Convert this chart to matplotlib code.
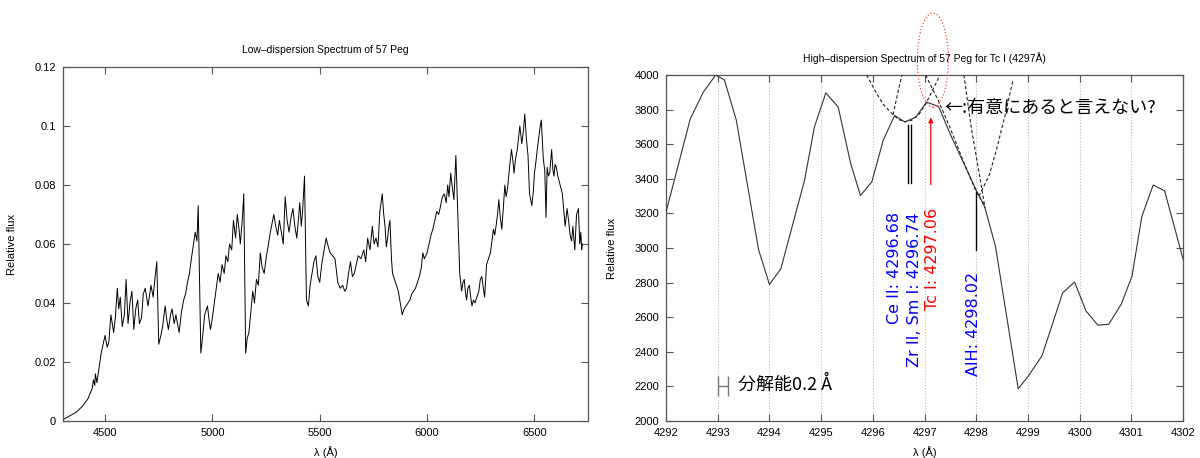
import matplotlib.pyplot as plt
from matplotlib.patches import Ellipse

# ---- Low-dispersion spectrum (left), rows of 10 values
low_wave = [4304, 4330, 4366, 4395, 4420, 4440, 4446, 4452, 4455, 4462,
            4482, 4500, 4510, 4518, 4527, 4540, 4548, 4557, 4564, 4571,
            4580, 4590, 4598, 4607, 4616, 4625, 4634, 4643, 4652, 4660,
            4670, 4678, 4687, 4700, 4714, 4724, 4732, 4741, 4750, 4760,
            4768, 4780, 4788, 4795, 4805, 4812, 4822, 4830, 4845, 4856,
            4866, 4875, 4884, 4893, 4902, 4912, 4920, 4928, 4934, 4946,
            4955, 4964, 4977, 4985, 4991, 5000, 5009, 5018, 5027, 5036,
            5045, 5055, 5063, 5072, 5080, 5090, 5098, 5108, 5116, 5124,
            5130, 5140, 5146, 5155, 5162, 5170, 5180, 5188, 5196, 5205,
            5214, 5223, 5232, 5241, 5250, 5259, 5270, 5286, 5295, 5304,
            5312, 5321, 5330, 5339, 5348, 5357, 5366, 5375, 5384, 5393,
            5400, 5407, 5414, 5420, 5429, 5438, 5447, 5455, 5464, 5473,
            5482, 5491, 5500, 5509, 5518, 5530, 5540, 5548, 5560, 5571,
            5584, 5595, 5607, 5616, 5625, 5634, 5643, 5652, 5661, 5670,
            5679, 5692, 5705, 5714, 5723, 5734, 5745, 5753, 5762, 5771,
            5780, 5791, 5798, 5804, 5810, 5816, 5822, 5827, 5834, 5839,
            5848, 5857, 5866, 5875, 5884, 5893, 5902, 5911, 5920, 5928,
            5937, 5946, 5955, 5964, 5973, 5980, 5987, 6000, 6009, 6018,
            6027, 6036, 6045, 6054, 6063, 6071, 6080, 6089, 6096, 6102,
            6110, 6116, 6125, 6134, 6145, 6152, 6161, 6167, 6173, 6178,
            6184, 6190, 6197, 6203, 6209, 6216, 6223, 6232, 6241, 6248,
            6255, 6262, 6268, 6277, 6286, 6295, 6302, 6309, 6315, 6321,
            6328, 6334, 6341, 6348, 6355, 6362, 6368, 6375, 6384, 6393,
            6400, 6405, 6412, 6420, 6426, 6432, 6441, 6448, 6455, 6462,
            6470, 6477, 6488, 6495, 6500, 6507, 6513, 6520, 6527, 6532,
            6541, 6548, 6554, 6559, 6565, 6571, 6580, 6586, 6591, 6596,
            6602, 6609, 6616, 6623, 6630, 6637, 6643, 6652, 6659, 6666,
            6673, 6679, 6688, 6696, 6705, 6711, 6716, 6720, 6723]
low_flux = [0.0005, 0.0015, 0.003, 0.005, 0.0075, 0.011, 0.014, 0.012, 0.016, 0.013,
            0.023, 0.029, 0.025, 0.027, 0.036, 0.030, 0.035, 0.045, 0.038, 0.042,
            0.032, 0.036, 0.048, 0.033, 0.040, 0.044, 0.031, 0.038, 0.041, 0.033,
            0.035, 0.043, 0.045, 0.039, 0.046, 0.042, 0.048, 0.054, 0.026, 0.029,
            0.032, 0.039, 0.034, 0.031, 0.036, 0.038, 0.033, 0.036, 0.030, 0.037,
            0.041, 0.043, 0.047, 0.050, 0.055, 0.060, 0.064, 0.061, 0.073, 0.023,
            0.029, 0.036, 0.039, 0.034, 0.031, 0.035, 0.040, 0.045, 0.050, 0.047,
            0.053, 0.050, 0.056, 0.054, 0.060, 0.058, 0.068, 0.062, 0.070, 0.065,
            0.060, 0.069, 0.077, 0.023, 0.028, 0.030, 0.038, 0.044, 0.040, 0.048,
            0.046, 0.057, 0.052, 0.050, 0.055, 0.059, 0.064, 0.070, 0.066, 0.063,
            0.068, 0.064, 0.060, 0.076, 0.068, 0.064, 0.069, 0.072, 0.066, 0.062,
            0.068, 0.074, 0.066, 0.071, 0.083, 0.041, 0.039, 0.046, 0.050, 0.054,
            0.056, 0.049, 0.047, 0.053, 0.057, 0.062, 0.059, 0.057, 0.056, 0.055,
            0.047, 0.045, 0.046, 0.044, 0.045, 0.050, 0.054, 0.049, 0.050, 0.053,
            0.056, 0.055, 0.058, 0.054, 0.062, 0.058, 0.066, 0.060, 0.062, 0.059,
            0.071, 0.077, 0.070, 0.066, 0.059, 0.062, 0.066, 0.068, 0.055, 0.050,
            0.048, 0.046, 0.044, 0.040, 0.036, 0.038, 0.039, 0.040, 0.041, 0.043,
            0.044, 0.045, 0.047, 0.049, 0.052, 0.057, 0.055, 0.057, 0.060, 0.063,
            0.065, 0.068, 0.071, 0.070, 0.073, 0.076, 0.077, 0.074, 0.080, 0.076,
            0.084, 0.080, 0.075, 0.090, 0.066, 0.050, 0.044, 0.047, 0.048, 0.044,
            0.041, 0.045, 0.046, 0.042, 0.039, 0.041, 0.040, 0.042, 0.044, 0.048,
            0.049, 0.045, 0.042, 0.053, 0.055, 0.057, 0.061, 0.065, 0.063, 0.066,
            0.070, 0.075, 0.069, 0.065, 0.072, 0.080, 0.076, 0.079, 0.086, 0.092,
            0.088, 0.084, 0.089, 0.092, 0.096, 0.100, 0.094, 0.098, 0.104, 0.096,
            0.090, 0.077, 0.073, 0.078, 0.084, 0.088, 0.092, 0.096, 0.100, 0.102,
            0.089, 0.085, 0.069, 0.086, 0.083, 0.084, 0.092, 0.085, 0.083, 0.087,
            0.086, 0.083, 0.081, 0.079, 0.077, 0.071, 0.066, 0.072, 0.068, 0.063,
            0.061, 0.066, 0.058, 0.070, 0.072, 0.060, 0.064, 0.058, 0.060]

# ---- High-dispersion spectrum (right)
high_wave = [4292.00, 4292.47, 4292.72, 4292.96, 4293.13, 4293.36, 4293.79, 4294.00, 4294.22,
             4294.68, 4294.87, 4295.09, 4295.33, 4295.57, 4295.76, 4295.98, 4296.20, 4296.42,
             4296.62, 4296.83, 4297.04, 4297.27, 4297.52, 4297.79, 4298.01, 4298.16, 4298.37,
             4298.81, 4299.01, 4299.27, 4299.67, 4299.90, 4300.12, 4300.35, 4300.56, 4300.80,
             4301.01, 4301.20, 4301.42, 4301.64, 4302.00]
high_flux = [3207, 3747, 3900, 4000, 3971, 3738, 2990, 2789, 2879, 3393, 3700, 3897, 3814, 3489,
             3303, 3383, 3623, 3766, 3728, 3757, 3843, 3818, 3642, 3469, 3326, 3240, 3010, 2186,
             2262, 2377, 2741, 2803, 2636, 2554, 2559, 2674, 2837, 3182, 3364, 3331, 2933]

# dashed fit curves (only the parts inside the frame)
fit_curves = [
    ([4295.88, 4296.05, 4296.20, 4296.39, 4296.50, 4296.62, 4296.75, 4296.90, 4297.05, 4297.30],
     [4000, 3905, 3830, 3770, 3742, 3730, 3738, 3775, 3850, 4000]),
    ([4296.39, 4296.47, 4296.56], [3770, 3880, 4000]),
    ([4297.02, 4297.15, 4297.26, 4297.50, 4297.75, 4297.98, 4298.15],
     [4000, 3920, 3856, 3690, 3500, 3337, 3250]),
    ([4297.76, 4297.90, 4298.05, 4298.17], [4000, 3700, 3440, 3230]),
    ([4298.05, 4298.25, 4298.40, 4298.55, 4298.71], [3300, 3420, 3580, 3760, 3971]),
]

# line identifications
id_black_lines = [4296.68, 4296.74]
id_black_range = (3378, 3712)
tc_wave = 4297.12
tc_range = (3350, 3770)
alh_wave = 4298.0
alh_range = (2990, 3326)

labels = ['Ce II: 4296.68', 'Zr II, Sm I: 4296.74', 'Tc I: 4297.06', 'AlH: 4298.02']
label_x = [4296.41, 4296.80, 4297.15, 4297.94]
label_top = [3210, 3205, 3233, 2860]
label_colors = ['#0000ff', '#0000ff', '#ff0000', '#0000ff']

resolution = 0.2
res_center = (4293.1, 2200)

jp = ['Noto Sans CJK JP', 'DejaVu Sans']
plt.rcParams['font.family'] = ['Liberation Sans', 'DejaVu Sans']
spine_col = '#555555'

fig = plt.figure(figsize=(12, 4.58), dpi=100)


def style(ax):
    for s in ax.spines.values():
        s.set_color(spine_col)
        s.set_linewidth(0.9)
    ax.tick_params(direction='in', top=True, right=True, length=5, width=0.8,
                   color=spine_col, labelsize=8, pad=5)


# left panel
ax1 = fig.add_axes([0.0523, 0.0808, 0.4378, 0.773])
ax1.plot(low_wave, low_flux, color='black', lw=0.7)
ax1.set_xlim(4303, 6750)
ax1.set_ylim(0, 0.12)
ax1.set_xticks([4500, 5000, 5500, 6000, 6500])
ax1.set_yticks([0, 0.02, 0.04, 0.06, 0.08, 0.1, 0.12])
ax1.set_yticklabels(['0', '0.02', '0.04', '0.06', '0.08', '0.1', '0.12'])
style(ax1)
ax1.set_title('Low\u2013dispersion Spectrum of 57 Peg', fontsize=7.5, pad=10)
ax1.set_xlabel('\u03bb (\u00c5)', fontsize=8)
ax1.set_ylabel('Relative flux', fontsize=8)
ax1.yaxis.set_label_coords(-0.087, 0.5)
ax1.xaxis.set_label_coords(0.5, -0.072)

# right panel
ax2 = fig.add_axes([0.555, 0.0808, 0.431, 0.7555])
ax2.set_xlim(4292, 4302)
ax2.set_ylim(2000, 4000)
ax2.set_xticks(range(4292, 4303))
ax2.set_yticks(range(2000, 4001, 200))
ax2.grid(axis='x', color='#bbbbbb', linestyle=':', lw=0.8)
ax2.plot(high_wave, high_flux, color='#333333', lw=0.8, zorder=3)
for fx, fy in fit_curves:
    ax2.plot(fx, fy, color='#222222', lw=0.8, ls=(0, (3, 2)), zorder=3)

for w in id_black_lines:
    ax2.plot([w, w], id_black_range, color='black', lw=1.0)
ax2.plot([alh_wave, alh_wave], alh_range, color='black', lw=1.0)
ax2.annotate('', xy=(tc_wave, tc_range[1]), xytext=(tc_wave, tc_range[0]),
             arrowprops=dict(arrowstyle='-|>', color='#ff0000', lw=0.9,
                             mutation_scale=7))

for txt, x, top, c in zip(labels, label_x, label_top, label_colors):
    ax2.text(x, top, txt, rotation=90, color=c, fontsize=11.5, ha='center', va='top',
             family=['DejaVu Sans'])

ax2.text(4297.38, 3810, '\u2190:有意にあると言えない?', fontsize=13, ha='left', va='center',
         family=jp)

ax2.errorbar(res_center[0], res_center[1], xerr=resolution / 2, color='#777777',
             lw=1.0, capsize=7, capthick=1.0)
ax2.text(4293.4, res_center[1] + 15, '分解能0.2 \u00c5', fontsize=13, ha='left',
         va='center', family=jp)

ax2.add_patch(Ellipse((4297.16, 4086), 0.6, 545, fill=False, edgecolor='#ff4444',
                      ls=':', lw=0.9, clip_on=False, zorder=5))

style(ax2)
ax2.set_title('High\u2013dispersion Spectrum of 57 Peg for Tc I (4297\u00c5)', fontsize=7.5,
              pad=9)
ax2.set_xlabel('\u03bb (\u00c5)', fontsize=8)
ax2.set_ylabel('Relative flux', fontsize=8)
ax2.yaxis.set_label_coords(-0.095, 0.5)
ax2.xaxis.set_label_coords(0.5, -0.074)

fig.savefig('out.png', dpi=100)
